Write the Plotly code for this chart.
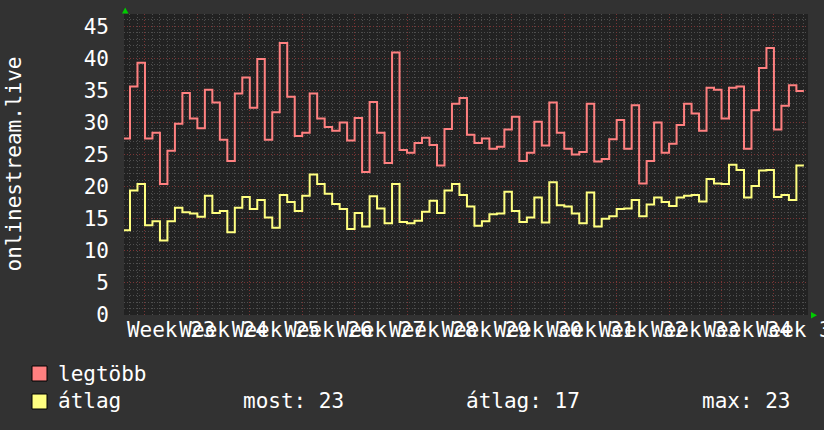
import plotly.graph_objects as go

# ---------------- data (daily values) ----------------
legtobb = [27.5, 35.6, 39.3, 27.5, 28.4, 20.4, 25.6, 29.8, 34.6, 30.6, 29.1, 35.1, 33.1, 27.3,
           24.0, 34.5, 37.0, 32.3, 39.9, 27.3, 31.6, 42.4, 34.0, 27.9, 28.4, 34.5, 30.6, 29.3,
           28.7, 30.0, 27.2, 30.7, 22.3, 33.2, 28.4, 23.7, 40.9, 25.7, 25.3, 26.8, 27.6, 26.5,
           23.3, 29.0, 32.9, 33.8,
           28.1, 26.8, 27.5, 25.9, 26.2, 28.9, 30.9, 24.0, 25.3, 30.1, 26.4, 33.1, 28.4, 25.9,
           25.0, 25.4, 32.9, 23.9, 24.3, 27.4, 30.4, 25.9, 32.7, 20.5, 24.0, 30.0, 25.3, 26.7,
           29.6, 32.9, 31.4, 28.7, 35.4, 35.1, 30.6, 35.4, 35.6, 25.9, 31.9, 38.5, 41.6, 28.9,
           32.6, 35.8, 34.9]
atlag = [13.2, 19.4, 20.4, 14.0, 14.6, 11.6, 14.6, 16.7, 16.0, 15.8, 15.3, 18.6, 15.9, 16.2,
         12.9, 16.7, 18.4, 16.5, 17.9, 15.2, 13.6, 18.7, 17.6, 16.2, 18.6, 21.9, 20.4, 18.9,
         17.3, 16.5, 13.4, 15.9, 13.8, 18.5, 16.6, 14.3, 20.4, 14.5, 14.3, 14.7, 16.1, 17.8,
         15.9, 19.4, 20.4, 18.7,
         16.9, 13.9, 14.6, 15.7, 15.8, 19.2, 16.2, 14.5, 15.2, 18.3, 14.4, 20.7, 17.1, 16.9,
         15.8, 14.3, 19.1, 13.8, 15.0, 15.4, 16.5, 16.6, 17.9, 15.4, 17.2, 18.3, 17.6, 17.0,
         18.3, 18.6, 18.7, 17.7, 21.2, 20.5, 20.4, 23.4, 22.6, 18.3, 20.1, 22.5, 22.6, 18.4,
         18.7, 17.9, 23.3]
week_labels = ["Week 23", "Week 24", "Week 25", "Week 26", "Week 27", "Week 28", "Week 29",
               "Week 30", "Week 31", "Week 32", "Week 33", "Week 34", "Week 35"]
first_week_start_day = 3      # day index where "Week 23" begins
y_title = "onlinestream.live"
series_names = ["legtöbb", "átlag"]

# ---------------- styling ----------------
FONT = "DejaVu Sans Mono"
PAPER = "#323232"
PLOT = "#222222"
RED = "#ff8080"
YEL = "#ffff80"
W, H = 824, 430
ML, MR, MT, MB = 124, 16, 14, 115
PW, PH = W - ML - MR, H - MT - MB

def px(x):
    return (x - ML) / PW

def py(y):
    return (H - MB - y) / PH

n = len(legtobb)
days = list(range(n + 1))
red_y = legtobb + [legtobb[-1]]
yel_y = atlag + [atlag[-1]]

fig = go.Figure()
fig.add_trace(go.Scatter(x=days, y=red_y, mode="lines", line=dict(color=RED, width=2, shape="hv"),
                         name=series_names[0], xaxis="x", yaxis="y", hoverinfo="skip"))
fig.add_trace(go.Scatter(x=days, y=yel_y, mode="lines", line=dict(color=YEL, width=2, shape="hv"),
                         name=series_names[1], xaxis="x2", yaxis="y", hoverinfo="skip"))

xr = [0.2, 91.55]
mid_weeks = [first_week_start_day + 3.5 + 7 * k for k in range(len(week_labels))]

fig.update_layout(
    width=W, height=H, autosize=False,
    margin=dict(l=ML, r=MR, t=MT, b=MB, pad=0, autoexpand=False),
    paper_bgcolor=PAPER, plot_bgcolor=PLOT,
    showlegend=False,
    font=dict(family=FONT, size=21, color="white"),
    xaxis=dict(range=xr, tick0=first_week_start_day, dtick=7, showticklabels=False,
               showgrid=True, gridcolor="#7a3535", griddash="1px,2px", gridwidth=1,
               ticks="", zeroline=False, showline=False, automargin=False,
               minor=dict(dtick=1, tick0=0, showgrid=True, gridcolor="#4e4e4e",
                          griddash="1px,2px", gridwidth=1)),
    xaxis2=dict(overlaying="x", matches="x", side="bottom", anchor="y",
                tickmode="array", tickvals=mid_weeks, ticktext=week_labels,
                tickangle=0, showgrid=False, zeroline=False, ticks="", automargin=False,
                ticklabeloverflow="allow",
                ticklabelstandoff=0, tickfont=dict(family=FONT, size=21, color="white")),
    yaxis=dict(range=[0, 46.9], tick0=0, dtick=5, showgrid=True, gridcolor="#7a3535",
               griddash="1px,2px", gridwidth=1, zeroline=False, ticks="", automargin=False,
               ticklabelstandoff=14, tickfont=dict(family=FONT, size=21, color="white"),
               minor=dict(dtick=1, showgrid=True, gridcolor="#4e4e4e",
                          griddash="1px,2px", gridwidth=1)),
)

ann = []
ann.append(dict(text=y_title, xref="paper", yref="paper", x=px(13), y=0.5, textangle=-90,
                xanchor="center", yanchor="middle", showarrow=False,
                font=dict(family=FONT, size=21, color="white")))
ann.append(dict(text=series_names[0], xref="paper", yref="paper", x=px(56), y=py(374),
                xanchor="left", yanchor="middle", showarrow=False))
ann.append(dict(text=series_names[1], xref="paper", yref="paper", x=px(56), y=py(401),
                xanchor="left", yanchor="middle", showarrow=False))
most = round(atlag[-1])
avg = round(sum(atlag) / len(atlag))
mx = round(max(atlag))
for txt, xx in [(f"most: {most}", 241), (f"átlag: {avg}", 464), (f"max: {mx}", 700)]:
    ann.append(dict(text=txt, xref="paper", yref="paper", x=px(xx), y=py(401),
                    xanchor="left", yanchor="middle", showarrow=False))
fig.update_layout(annotations=ann)

shapes = []
for col, y0 in [(RED, 366), (YEL, 394)]:
    shapes.append(dict(type="rect", xref="paper", yref="paper", x0=px(32), x1=px(47),
                       y0=py(y0 + 15), y1=py(y0), fillcolor=col, line=dict(color="black", width=1)))
# axis arrows
shapes.append(dict(type="path", xref="paper", yref="paper",
                   path=f"M {px(122)},{py(13.5)} L {px(128.5)},{py(13.5)} L {px(125.2)},{py(7.5)} Z",
                   fillcolor="#00cc00", line=dict(color="#00cc00", width=0)))
shapes.append(dict(type="path", xref="paper", yref="paper",
                   path=f"M {px(811)},{py(312)} L {px(811)},{py(318.5)} L {px(817)},{py(315.2)} Z",
                   fillcolor="#00cc00", line=dict(color="#00cc00", width=0)))
fig.update_layout(shapes=shapes)

fig.write_html("out.html", config={"displayModeBar": False},
               post_script="document.body.style.margin='0';document.body.style.background='#323232';")
